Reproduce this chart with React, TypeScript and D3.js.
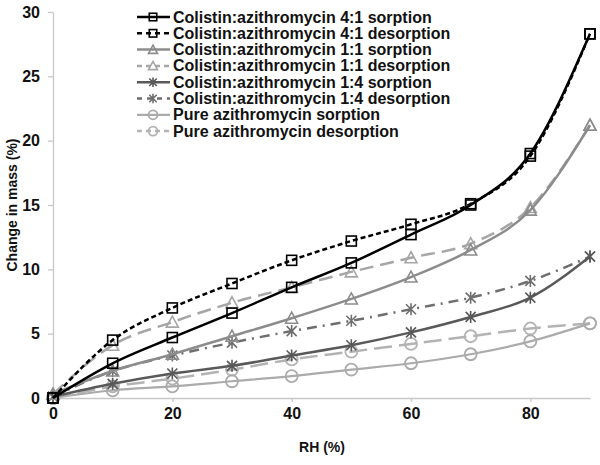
import React, { useRef, useEffect } from "react";
import * as d3 from "d3";

const rh = [0, 10, 20, 30, 40, 50, 60, 70, 80, 90];

const ca41Sorp = [0, 2.7, 4.7, 6.6, 8.6, 10.5, 12.7, 15.0, 19.0, 28.3];
const ca41Desorp = [0, 4.5, 7.0, 8.9, 10.7, 12.2, 13.5, 15.1, 18.8, 28.3];
const ca11Sorp = [0.3, 2.1, 3.4, 4.8, 6.2, 7.7, 9.4, 11.5, 14.6, 21.2];
const ca11Desorp = [0.3, 4.1, 5.9, 7.4, 8.6, 9.8, 10.9, 12.0, 14.8, 21.2];
const ca14Sorp = [0.1, 1.1, 1.9, 2.5, 3.3, 4.1, 5.1, 6.3, 7.8, 11.0];
const ca14Desorp = [0.1, 2.1, 3.3, 4.3, 5.2, 6.0, 6.9, 7.8, 9.1, 11.0];
const pureSorp = [0, 0.6, 0.9, 1.3, 1.7, 2.2, 2.7, 3.4, 4.4, 5.8];
const pureDesorp = [0, 0.9, 1.5, 2.2, 3.0, 3.6, 4.2, 4.8, 5.4, 5.8];

const xTicks = [0, 20, 40, 60, 80];
const yTicks = [0, 5, 10, 15, 20, 25, 30];

type Marker = "square" | "triangle" | "star" | "circle";
interface Series {
  name: string;
  values: number[];
  color: string;
  width: number;
  dash: string;
  marker: Marker;
}

const series: Series[] = [
  { name: "Colistin:azithromycin 4:1 sorption", values: ca41Sorp, color: "#000000", width: 2.5, dash: "", marker: "square" },
  { name: "Colistin:azithromycin 4:1 desorption", values: ca41Desorp, color: "#000000", width: 2.5, dash: "5,3", marker: "square" },
  { name: "Colistin:azithromycin 1:1 sorption", values: ca11Sorp, color: "#8c8c8c", width: 2.5, dash: "", marker: "triangle" },
  { name: "Colistin:azithromycin 1:1 desorption", values: ca11Desorp, color: "#a6a6a6", width: 2.5, dash: "14,7", marker: "triangle" },
  { name: "Colistin:azithromycin 1:4 sorption", values: ca14Sorp, color: "#595959", width: 2.5, dash: "", marker: "star" },
  { name: "Colistin:azithromycin 1:4 desorption", values: ca14Desorp, color: "#6e6e6e", width: 2.5, dash: "10,6,2,6", marker: "star" },
  { name: "Pure azithromycin sorption", values: pureSorp, color: "#ababab", width: 2.2, dash: "", marker: "circle" },
  { name: "Pure azithromycin desorption", values: pureDesorp, color: "#b3b3b3", width: 2.5, dash: "18,7", marker: "circle" },
];

const FONT = "'Liberation Sans', Arial, sans-serif";

function drawMarker(g: d3.Selection<SVGGElement, unknown, null, undefined>, type: Marker, cx: number, cy: number, color: string, k = 1) {
  const s = 5 * k;
  if (type === "square") {
    g.append("rect").attr("x", cx - s).attr("y", cy - s).attr("width", 2 * s).attr("height", 2 * s)
      .attr("fill", "none").attr("stroke", color).attr("stroke-width", 1.6);
  } else if (type === "triangle") {
    g.append("path").attr("d", `M${cx},${cy - 6 * k}L${cx + 6 * k},${cy + 5 * k}L${cx - 6 * k},${cy + 5 * k}Z`)
      .attr("fill", "none").attr("stroke", color).attr("stroke-width", 1.6);
  } else if (type === "circle") {
    g.append("circle").attr("cx", cx).attr("cy", cy).attr("r", 6 * k)
      .attr("fill", "none").attr("stroke", color).attr("stroke-width", 1.8);
  } else {
    const r = 5 * k;
    g.append("path")
      .attr("d", `M${cx - r},${cy - r}L${cx + r},${cy + r}M${cx + r},${cy - r}L${cx - r},${cy + r}M${cx},${cy - r - 1}L${cx},${cy + r + 1}`)
      .attr("fill", "none").attr("stroke", color).attr("stroke-width", 1.6);
  }
}

const App: React.FC = () => {
  const svgRef = useRef<SVGSVGElement>(null);

  useEffect(() => {
    const svg = d3.select(svgRef.current);
    svg.selectAll("*").remove();

    const x = d3.scaleLinear().domain([0, 90]).range([53, 590]);
    const y = d3.scaleLinear().domain([0, 30]).range([398, 12]);

    // axes
    const xAxis = d3.axisBottom(x).tickValues(xTicks).tickSize(4).tickPadding(6).tickSizeOuter(0);
    const yAxis = d3.axisLeft(y).tickValues(yTicks).tickSize(5).tickPadding(8).tickSizeOuter(0);

    const gx = svg.append("g").attr("transform", `translate(0,${y(0)})`).call(xAxis);
    const gy = svg.append("g").attr("transform", `translate(${x(0)},0)`).call(yAxis);
    [gx, gy].forEach((g) => {
      g.selectAll("path, line").attr("stroke", "#c8c8c8").attr("stroke-width", 1.3);
      g.selectAll("text").attr("font-family", FONT).attr("font-weight", "bold").attr("font-size", 16).attr("fill", "#111");
    });

    // lines
    const line = d3.line<number>()
      .x((_, i) => x(rh[i]))
      .y((d) => y(d))
      .curve(d3.curveMonotoneX);

    const plot = svg.append("g");
    // draw from back to front (pure first)
    [...series].reverse().forEach((s) => {
      plot.append("path")
        .attr("d", line(s.values))
        .attr("fill", "none")
        .attr("stroke", s.color)
        .attr("stroke-width", s.width)
        .attr("stroke-dasharray", s.dash || null);
      const mg = plot.append("g");
      s.values.forEach((v, i) => drawMarker(mg, s.marker, x(rh[i]), y(v), s.color));
    });

    // legend
    const lg = svg.append("g");
    series.forEach((s, i) => {
      const ly = 17 + i * 16.3;
      lg.append("line").attr("x1", 137).attr("x2", 170).attr("y1", ly).attr("y2", ly)
        .attr("stroke", s.color).attr("stroke-width", s.width)
        .attr("stroke-dasharray", s.dash ? (s.marker === "star" ? "5,5" : "5,4") : null);
      const mg = lg.append("g");
      drawMarker(mg, s.marker, 153, ly, s.color, 0.75);
      lg.append("text").attr("x", 173).attr("y", ly + 5.5)
        .attr("font-family", FONT).attr("font-weight", "bold").attr("font-size", 16).attr("fill", "#111")
        .text(s.name);
    });

    // axis titles
    svg.append("text").attr("x", 322).attr("y", 452).attr("text-anchor", "middle")
      .attr("font-family", FONT).attr("font-weight", "bold").attr("font-size", 14).attr("fill", "#111")
      .text("RH (%)");
    svg.append("text").attr("transform", `translate(17,205) rotate(-90)`).attr("text-anchor", "middle")
      .attr("font-family", FONT).attr("font-weight", "bold").attr("font-size", 14).attr("fill", "#111")
      .text("Change in mass (%)");
  }, []);

  return (
    <svg ref={svgRef} width={600} height={465}
      style={{ position: "absolute", left: 0, top: 0, background: "#fff" }} />
  );
};

export default App;
